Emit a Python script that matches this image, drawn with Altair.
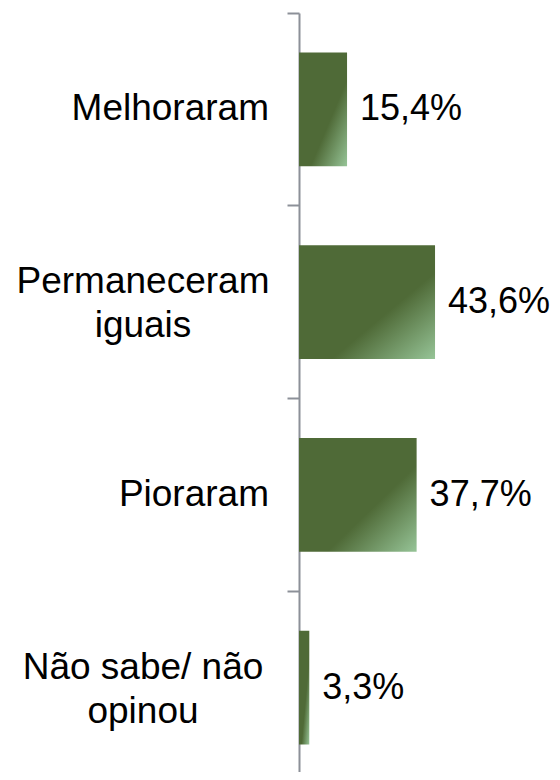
import altair as alt
import pandas as pd

categories = ["Melhoraram", "Permaneceram iguais", "Pioraram", "Não sabe/ não opinou"]
label_lines = [["Melhoraram"], ["Permaneceram", "iguais"], ["Pioraram"], ["Não sabe/ não", "opinou"]]
values = [15.4, 43.6, 37.7, 3.3]

df = pd.DataFrame({
    "cat": categories,
    "lines": label_lines,
    "nlines": [len(l) for l in label_lines],
    "value": values,
    "vlabel": [f"{v:.1f}".replace(".", ",") + "%" for v in values],
})

FONT = "Liberation Sans"
ysc = alt.Scale(domain=categories, paddingInner=0, paddingOuter=0, range=[0, 771])
xsc = alt.Scale(domain=[0, 50], nice=False)

grad = alt.Gradient(
    gradient="linear",
    stops=[
        alt.GradientStop(color="#4f6a37", offset=0),
        alt.GradientStop(color="#4f6a37", offset=0.62),
        alt.GradientStop(color="#96c497", offset=1),
    ],
    x1=0, y1=0, x2=1, y2=1,
)

base = alt.Chart(df)

bars = base.mark_bar(color=grad, height={"band": 0.59}).encode(
    y=alt.Y("cat:N", scale=ysc, sort=categories,
            axis=alt.Axis(title=None, labels=False, bandPosition=0, domainColor="#8c9098",
                          domainWidth=2, tickColor="#8c9098", tickWidth=2, tickSize=12,
                          grid=False)),
    x=alt.X("value:Q", scale=xsc, axis=None),
)

vals = base.mark_text(align="left", baseline="middle", dx=13, fontSize=36, font=FONT,
                      color="#000000").encode(
    y=alt.Y("cat:N", scale=ysc, sort=categories),
    x=alt.X("value:Q", scale=xsc),
    text="vlabel:N",
)

single = base.transform_filter("datum.nlines == 1").mark_text(
    align="right", baseline="middle", fontSize=37, font=FONT, color="#000000", lineHeight=44
).encode(
    y=alt.Y("cat:N", scale=ysc, sort=categories),
    x=alt.value(-30),
    text="lines",
)

multi = base.transform_filter("datum.nlines > 1").mark_text(
    align="center", baseline="middle", fontSize=37, font=FONT, color="#000000",
    lineHeight=44, dy=-20
).encode(
    y=alt.Y("cat:N", scale=ysc, sort=categories),
    x=alt.value(-156),
    text="lines",
)

chart = alt.layer(bars, vals, single, multi).properties(
    width=156, height=759,
    autosize=alt.AutoSizeParams(type="none"),
    padding={"left": 291, "top": 5, "right": 97, "bottom": 0},
).configure(background="white").configure_view(stroke=None)

chart.save("out.html", embed_options={"renderer": "svg", "actions": False})
